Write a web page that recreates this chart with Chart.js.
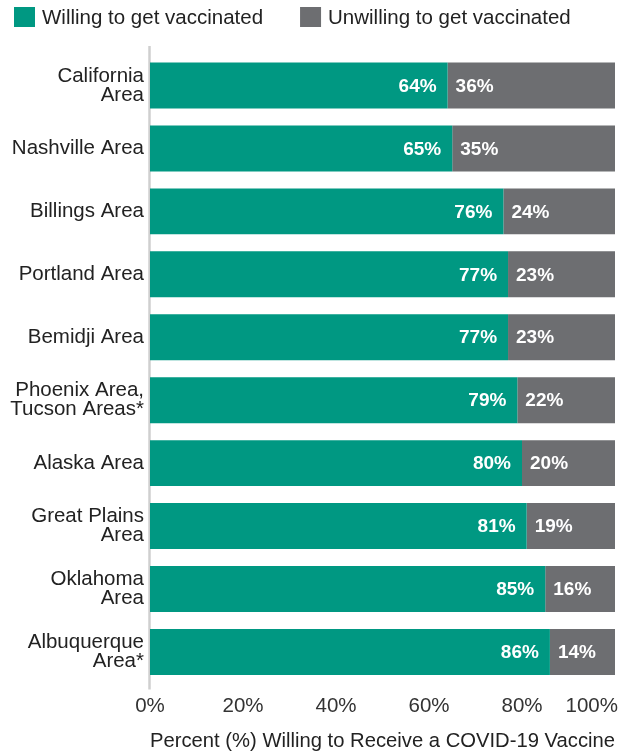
<!DOCTYPE html>
<html>
<head>
<meta charset="utf-8">
<script src="https://cdn.jsdelivr.net/npm/chart.js@4.4.1/dist/chart.umd.min.js"></script>
<style>
	html, body { margin: 0; padding: 0; background: #fff; }
	#wrap { width: 626px; height: 754px; position: relative; }
</style>
</head>
<body>
<div id="wrap"><canvas id="chart"></canvas></div>
<script>
const areas = [
	["California", "Area"],
	"Nashville Area",
	"Billings Area",
	"Portland Area",
	"Bemidji Area",
	["Phoenix Area,", "Tucson Areas*"],
	"Alaska Area",
	["Great Plains", "Area"],
	["Oklahoma", "Area"],
	["Albuquerque", "Area*"],
];
const willing = [64, 65, 76, 77, 77, 79, 80, 81, 85, 86];
const unwilling = [36, 35, 24, 23, 23, 22, 20, 19, 16, 14];
const xTicks = [0, 20, 40, 60, 80, 100];

const FONT = "'Liberation Sans', Arial, sans-serif";
const TEAL = "#009882";
const GRAY = "#6d6e71";
const TEXT = "#222222";

	/// legend drawn by hand so it can sit flush left like the original
const topLegend = {
	id: "topLegend",
	afterDraw(chart)
	{
		const ctx = chart.ctx;
		ctx.save();
		ctx.font = "20.5px " + FONT;
		ctx.textBaseline = "middle";
		ctx.textAlign = "left";
		let x = 14;
		for (const ds of chart.data.datasets)
		{
			ctx.fillStyle = ds.backgroundColor;
			ctx.fillRect(x, 7, 21, 20);
			ctx.fillStyle = TEXT;
			ctx.fillText(ds.label, x + 28, 18);
			x += 28 + ctx.measureText(ds.label).width + 37;
		}
		ctx.restore();
	}
};

	/// percent labels inside the bars
const barLabels = {
	id: "barLabels",
	afterDatasetsDraw(chart)
	{
		const ctx = chart.ctx;
		ctx.save();
		ctx.font = "bold 19px " + FONT;
		ctx.fillStyle = "#ffffff";
		ctx.textBaseline = "middle";
		chart.data.datasets.forEach((ds, i) =>
		{
			const meta = chart.getDatasetMeta(i);
			meta.data.forEach((bar, j) =>
			{
				const txt = ds.data[j] + "%";
				if (i == 0)
				{
					ctx.textAlign = "right";
					ctx.fillText(txt, bar.x - 11, bar.y + 1);
				}
				else
				{
					ctx.textAlign = "left";
					ctx.fillText(txt, bar.base + 8, bar.y + 1);
				}
			});
		});
		ctx.restore();
	}
};

	/// x tick labels, last one kept inside the canvas; plus the y axis line
const axisExtras = {
	id: "axisExtras",
	beforeDatasetsDraw(chart)
	{
		const ctx = chart.ctx;
		const area = chart.chartArea;
		ctx.save();
		ctx.strokeStyle = "#cfcfcf";
		ctx.lineWidth = 2.5;
		ctx.beginPath();
		ctx.moveTo(area.left - 0.5, area.top - 8);
		ctx.lineTo(area.left - 0.5, area.bottom + 6);
		ctx.stroke();
		ctx.restore();
	},
	afterDraw(chart)
	{
		const ctx = chart.ctx;
		const scale = chart.scales.x;
		ctx.save();
		ctx.font = "20.5px " + FONT;
		ctx.fillStyle = "#333333";
		ctx.textBaseline = "middle";
		ctx.textAlign = "center";
		for (const v of xTicks)
		{
			const txt = v + "%";
			const w = ctx.measureText(txt).width;
			let x = scale.getPixelForValue(v);
			x = Math.min(x, chart.chartArea.right + 3 - w / 2);
			ctx.fillText(txt, x, scale.top + 23);
		}
		ctx.restore();
	}
};

new Chart(document.getElementById("chart"), {
	type: "bar",
	data: {
		labels: areas,
		datasets: [{
			label: "Willing to get vaccinated",
			data: willing,
			backgroundColor: TEAL,
			borderWidth: 0,
			barPercentage: 0.73,
			categoryPercentage: 1,
		},
		{
			label: "Unwilling to get vaccinated",
			data: unwilling,
			backgroundColor: GRAY,
			borderWidth: 0,
			barPercentage: 0.73,
			categoryPercentage: 1,
		}]
	},
	options: {
		indexAxis: "y",
		responsive: true,
		maintainAspectRatio: false,
		animation: false,
		layout: {
			padding: { top: 54, right: 11, bottom: 0, left: 0 }
		},
		plugins: {
			legend: { display: false },
			tooltip: { enabled: false },
		},
		scales: {
			x: {
				stacked: true,
				min: 0,
				max: 100,
				grid: { display: false, drawTicks: false },
				border: { display: false },
				ticks: { display: false, stepSize: 20 },
				title: {
					display: true,
					text: "Percent (%) Willing to Receive a COVID-19 Vaccine",
					color: TEXT,
					font: { family: FONT, size: 20.5, lineHeight: 1.2 },
					padding: { top: 46, bottom: 0 },
				},
			},
			y: {
				stacked: true,
				grid: { display: false, drawTicks: false },
				border: { display: false },
				ticks: {
					color: TEXT,
					padding: 6,
					font: { family: FONT, size: 20.5, lineHeight: 0.92 },
				},
				afterFit(scale)
				{
					scale.width = 150;
				},
			}
		}
	},
	plugins: [ axisExtras, barLabels, topLegend ],
});
</script>
</body>
</html>
